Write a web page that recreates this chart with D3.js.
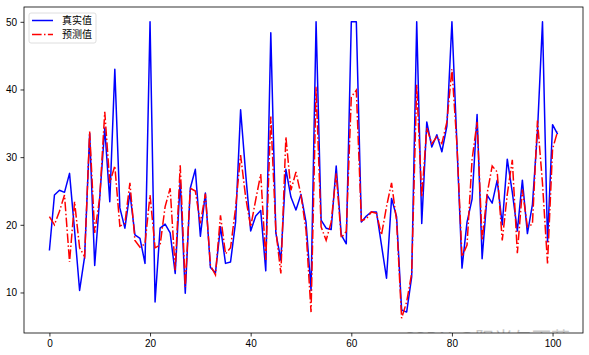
<!DOCTYPE html>
<html>
<head>
<meta charset="utf-8">
<script src="https://cdn.jsdelivr.net/npm/d3@7"></script>
<style>
  body { margin: 0; background: #fff; }
  text { font-family: "Liberation Sans", "Noto Sans CJK SC", sans-serif; }
</style>
</head>
<body>
<svg id="svg" width="589" height="355"></svg>
<script>
// values
const trueVals = [16.2, 24.4, 25.1, 24.8, 27.6, 19.2, 10.3, 15.3, 33.5, 14.0,
    24.0, 34.3, 23.4, 43.0, 22.5, 19.5, 24.7, 18.5, 18.0, 14.3,
    50.0, 8.6, 19.5, 20.1, 18.8, 12.8, 26.5, 9.9, 25.4, 28.2,
    18.3, 24.7, 13.7, 12.9, 19.7, 14.3, 14.5, 20.4, 37.0, 27.6,
    19.1, 21.3, 22.1, 13.2, 48.4, 18.8, 14.8, 28.2, 24.1, 22.2,
    24.5, 20.4, 10.3, 50.0, 20.7, 19.5, 19.3, 28.7, 18.5, 17.2,
    50.0, 50.0, 20.4, 21.3, 21.9, 21.9, 17.0, 12.1, 23.9, 21.2,
    7.4, 7.1, 12.3, 50.0, 20.2, 35.2, 31.5, 33.3, 30.8, 34.6,
    50.0, 31.8, 13.6, 20.4, 23.8, 36.3, 15.0, 24.4, 23.2, 26.6,
    20.0, 29.7, 24.8, 19.1, 26.6, 18.7, 23.0, 33.8, 50.0, 17.5,
    34.8, 33.4];
const predVals = [21.2, 20.0, 22.0, 24.4, 14.5, 23.4, 16.6, 15.3, 33.8, 18.8,
    24.0, 36.7, 26.2, 28.7, 19.8, 20.2, 26.2, 17.7, 16.7, 17.2,
    24.4, 16.6, 17.0, 22.7, 25.4, 13.3, 28.8, 10.8, 25.4, 25.0,
    20.2, 24.6, 14.0, 12.6, 21.4, 15.7, 16.6, 22.5, 30.3, 24.1,
    19.7, 23.7, 27.5, 14.8, 36.0, 19.2, 12.8, 33.0, 25.1, 27.8,
    24.4, 19.2, 7.1, 40.4, 19.7, 17.7, 20.4, 27.6, 18.1, 19.0,
    38.9, 39.9, 20.6, 20.9, 21.9, 21.7, 18.5, 22.7, 26.2, 20.6,
    6.2, 8.6, 12.8, 40.7, 24.1, 34.3, 32.0, 33.0, 32.0, 35.2,
    43.0, 31.8, 15.3, 17.0, 29.6, 35.2, 17.7, 24.6, 28.7, 27.8,
    17.7, 24.5, 29.6, 15.8, 25.2, 19.7, 20.1, 35.4, 26.1, 14.3,
    31.2, 33.8];
const xTicks = [0, 20, 40, 60, 80, 100];
const yTicks = [10, 20, 30, 40, 50];
const seriesNames = ['真实值', '预测值'];

const svg = d3.select('#svg');
const plotLeft = 24, plotRight = 583, plotTop = 7, plotBottom = 333;

const n = trueVals.length;
const xPad = (n - 1) * 0.05;
const x = d3.scaleLinear().domain([-xPad, n - 1 + xPad]).range([plotLeft, plotRight]);

const all = trueVals.concat(predVals);
const yMin = d3.min(all), yMax = d3.max(all);
const yPad = (yMax - yMin) * 0.05;
const y = d3.scaleLinear().domain([yMin - yPad, yMax + yPad]).range([plotBottom, plotTop]);

// watermark, mostly hidden under the axes
svg.append('clipPath').attr('id', 'wm')
    .append('rect').attr('x', 0).attr('y', 0).attr('width', 589).attr('height', plotBottom);
svg.append('text')
    .attr('clip-path', 'url(#wm)')
    .attr('x', 403).attr('y', 346)
    .attr('font-size', 19)
    .attr('fill', '#c8c8c8')
    .style('font-family', '"Noto Sans CJK SC", sans-serif')
    .text('CSDN @阳光与雨落');

const renderPath = d3.line()
    .x((d, i) => x(i))
    .y(d => y(d));

svg.append('path').datum(trueVals)
    .attr('d', renderPath)
    .attr('fill', 'none')
    .style('stroke', 'blue')
    .style('stroke-width', 1.5)
    .style('stroke-linejoin', 'round');

svg.append('path').datum(predVals)
    .attr('d', renderPath)
    .attr('fill', 'none')
    .style('stroke', 'red')
    .style('stroke-width', 1.5)
    .style('stroke-dasharray', '9.6,2.4,1.5,2.4');

// axes
const xAxis = svg.append('g').attr('transform', `translate(0,${plotBottom})`)
    .call(d3.axisBottom(x).tickValues(xTicks).tickSize(3.5).tickPadding(3.5).tickFormat(d3.format('d')));
const yAxis = svg.append('g').attr('transform', `translate(${plotLeft},0)`)
    .call(d3.axisLeft(y).tickValues(yTicks).tickSize(3.5).tickPadding(3.5).tickFormat(d3.format('d')));
[xAxis, yAxis].forEach(a => {
    a.select('.domain').remove();
    a.selectAll('line').attr('stroke', '#000').attr('stroke-width', 0.8);
    a.selectAll('text').attr('font-size', 10).attr('fill', '#000')
        .style('font-family', '"Liberation Sans", sans-serif');
});

svg.append('rect')
    .attr('x', plotLeft).attr('y', plotTop)
    .attr('width', plotRight - plotLeft).attr('height', plotBottom - plotTop)
    .attr('fill', 'none').attr('stroke', '#000').attr('stroke-width', 0.8);

// legend
const legend = svg.append('g').attr('transform', 'translate(29,13)');
legend.append('rect')
    .attr('width', 67).attr('height', 30).attr('rx', 2)
    .attr('fill', 'rgba(255,255,255,0.8)').attr('stroke', '#d6d6d6').attr('stroke-width', 0.8);
const styles = [{ c: 'blue', dash: null }, { c: 'red', dash: '9.6,2.4,1.5,2.4' }];
seriesNames.forEach((name, i) => {
    const row = legend.append('g').attr('transform', `translate(0,${7.5 + i * 14})`);
    row.append('line')
        .attr('x1', 3).attr('x2', 24).attr('y1', 0).attr('y2', 0)
        .style('stroke', styles[i].c).style('stroke-width', 1.5)
        .style('stroke-dasharray', styles[i].dash);
    row.append('text')
        .attr('x', 33).attr('y', 3.5)
        .attr('font-size', 10)
        .style('font-family', '"Noto Sans CJK SC", sans-serif')
        .text(name);
});
</script>
</body>
</html>
